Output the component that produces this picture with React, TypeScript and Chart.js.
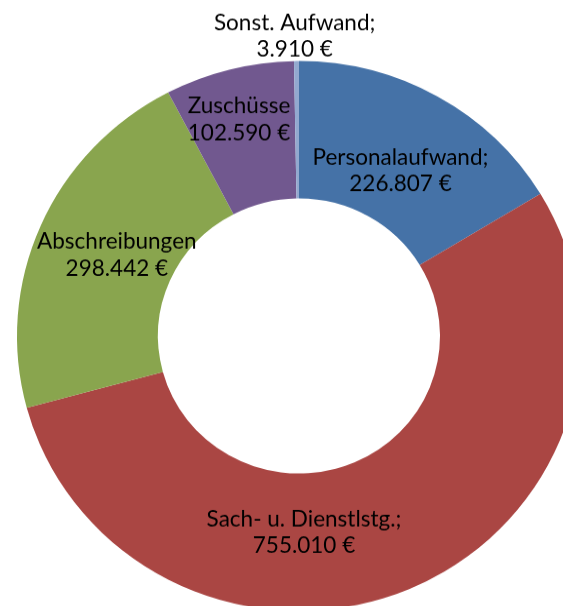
import React, { useEffect, useRef } from "react";
import { Chart, registerables } from "chart.js";

Chart.register(...registerables);

const categories = [
  "Personalaufwand;",
  "Sach- u. Dienstlstg.;",
  "Abschreibungen",
  "Zuschüsse",
  "Sonst. Aufwand;",
];
const values = [226807, 755010, 298442, 102590, 3910];
const colors = ["#4572A7", "#AA4643", "#89A54E", "#71588F", "#93A9CF"];

// label placement (fraction of outer radius, angle nudge in degrees)
const labelRadius = [0.7, 0.715, 0.71, 0.815, 1.09];
const labelAngleShift = [1.5, 21.7, 0.9, -0.8, -0.3];

function fmtEuro(v: number): string {
  const s = String(Math.round(v));
  let out = "";
  for (let i = 0; i < s.length; i++) {
    const fromEnd = s.length - i;
    out += s[i];
    if (fromEnd > 1 && (fromEnd - 1) % 3 === 0) out += ".";
  }
  return out + " €";
}

const FONT = "22.5px Lato, 'Open Sans', sans-serif";

const labelPlugin = {
  id: "sliceLabels",
  afterDatasetsDraw(chart: any) {
    const ctx = chart.ctx;
    const meta = chart.getDatasetMeta(0);
    ctx.save();
    ctx.font = FONT;
    ctx.fillStyle = "#000";
    ctx.textAlign = "center";
    ctx.textBaseline = "middle";
    meta.data.forEach((arc: any, i: number) => {
      const p = arc.getProps(["x", "y", "startAngle", "endAngle", "outerRadius"], true);
      const mid = (p.startAngle + p.endAngle) / 2 + (labelAngleShift[i] * Math.PI) / 180;
      const r = p.outerRadius * labelRadius[i];
      const cx = p.x + Math.cos(mid) * r;
      const cy = p.y + Math.sin(mid) * r;
      const lh = 27.7;
      ctx.fillText(categories[i], cx, cy - lh / 2);
      ctx.fillText(fmtEuro(values[i]), cx, cy + lh / 2);
    });
    ctx.restore();
  },
};

export default function App() {
  const ref = useRef<HTMLCanvasElement | null>(null);
  useEffect(() => {
    if (!ref.current) return;
    const chart = new Chart(ref.current, {
      type: "doughnut",
      data: {
        labels: categories,
        datasets: [
          {
            data: values,
            backgroundColor: colors,
            borderWidth: 0,
            hoverOffset: 0,
            offset: 0,
          },
        ],
      },
      options: {
        responsive: false,
        maintainAspectRatio: false,
        animation: false,
        cutout: "50%",
        layout: { padding: { left: 17, right: 39, top: 62.6, bottom: 13.4 } },
        plugins: {
          legend: { display: false },
          tooltip: { enabled: false },
        },
      },
      plugins: [labelPlugin],
    });
    return () => chart.destroy();
  }, []);
  return (
    <div
      style={{
        position: "fixed",
        left: 0,
        top: 0,
        width: 563,
        height: 606,
        overflow: "hidden",
        background: "#fff",
      }}
    >
      <div
        style={{
          position: "absolute",
          left: 0,
          top: 0,
          transform: "scale(1, 0.975)",
          transformOrigin: "0 0",
        }}
      >
        <canvas ref={ref} width={620} height={640} style={{ display: "block" }} />
      </div>
    </div>
  );
}
